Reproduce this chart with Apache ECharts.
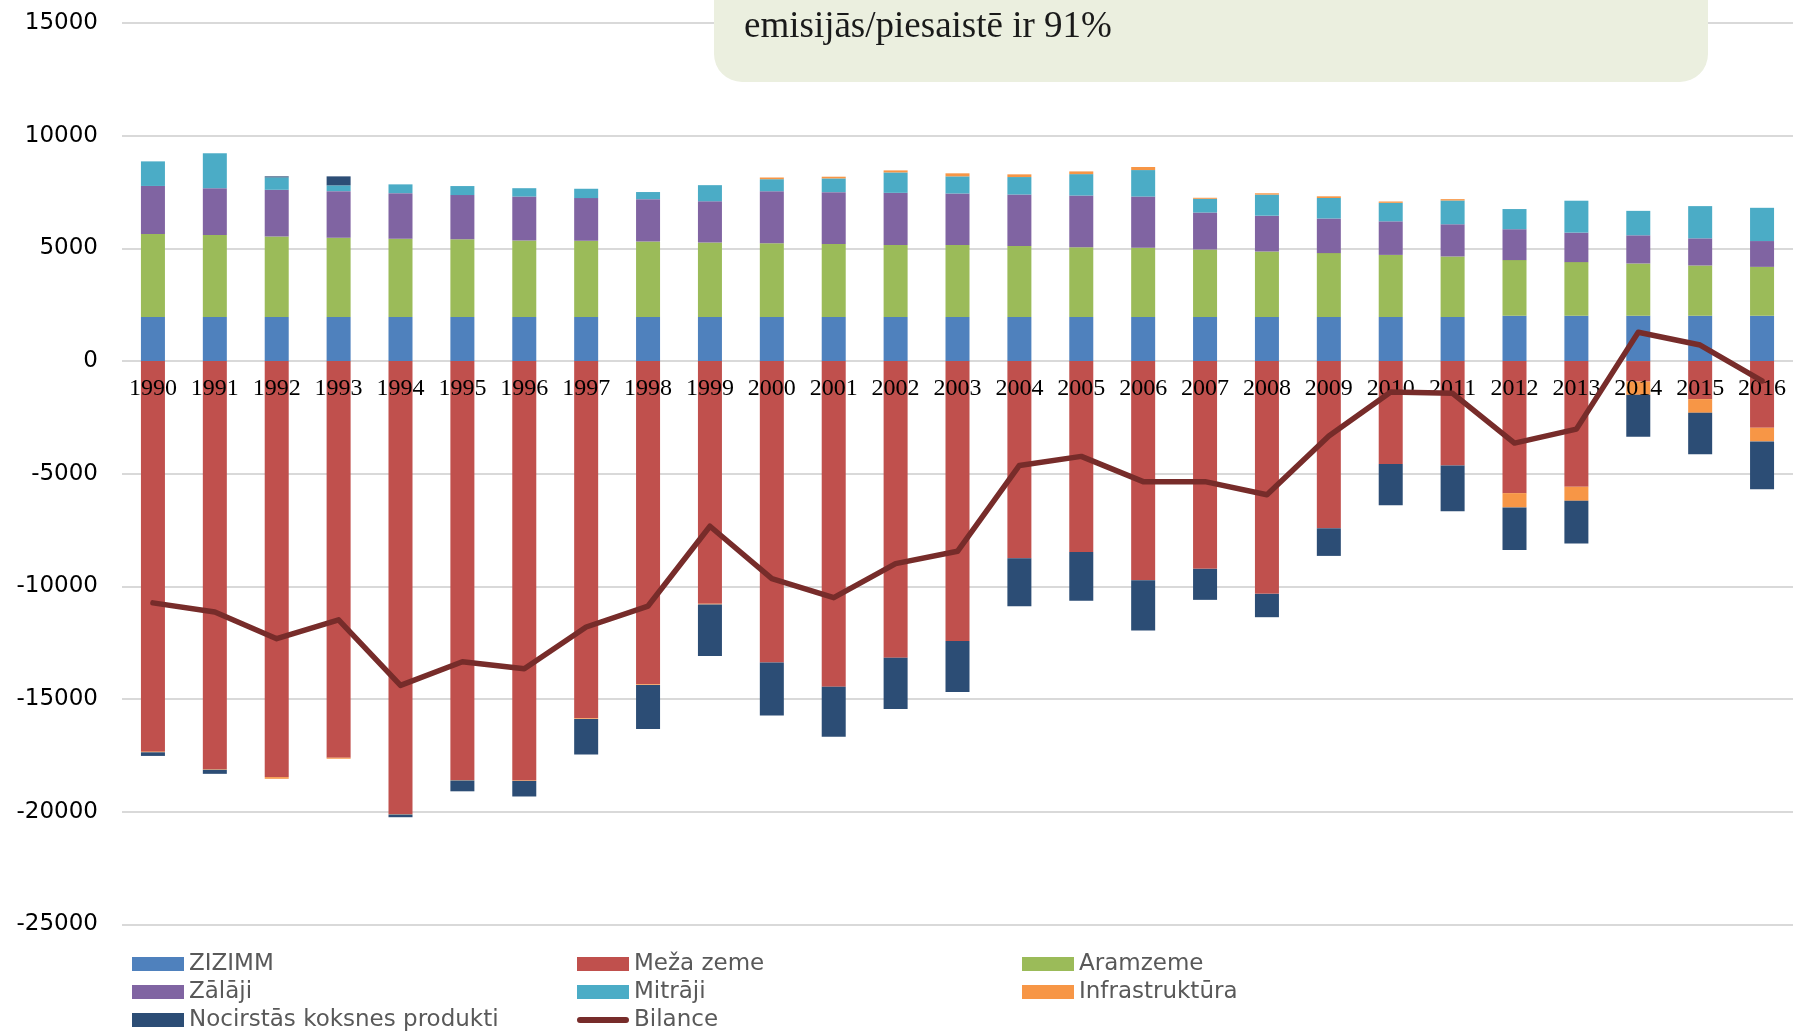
<!DOCTYPE html>
<html>
	<head>
		<meta charset="UTF-8">
		<title>ZIZIMM</title>
		<script type="text/javascript" src="https://cdn.jsdelivr.net/npm/echarts@6/dist/echarts.min.js"></script>
		<style>
			body{margin:0;background:#fff;}
		</style>
	</head>
	<body>
		<div id="main" style="width: 1793px;height: 1032px;"></div>
		<script type="text/javascript">
			var years=['1990','1991','1992','1993','1994','1995','1996','1997','1998','1999','2000','2001','2002','2003',
				'2004','2005','2006','2007','2008','2009','2010','2011','2012','2013','2014','2015','2016'];

			var zizimm=[1960,1960,1960,1960,1960,1960,1960,1960,1960,1960,1960,1960,1960,1960,
				1960,1960,1960,1960,1960,1960,1960,1960,2010,2010,2010,2010,2010];
			var mezaZeme=[-17330,-18110,-18460,-17600,-20100,-18590,-18610,-15850,-14340,-10770,-13380,-14450,-13160,-12420,
				-8750,-8470,-9720,-9220,-10330,-7420,-4570,-4630,-5860,-5580,-910,-1690,-2960];
			var aramzeme=[3680,3630,3570,3510,3470,3440,3390,3380,3350,3300,3270,3230,3185,3185,
				3140,3095,3065,2990,2900,2830,2750,2680,2470,2380,2320,2230,2170];
			var zalaji=[2130,2080,2070,2070,2020,1965,1950,1890,1875,1830,2305,2305,2320,2290,
				2290,2290,2275,1640,1590,1535,1490,1430,1370,1310,1250,1205,1145];
			var mitraji=[1090,1550,550,255,390,400,370,415,315,715,535,610,905,760,
				775,950,1175,610,935,910,820,1055,895,1415,1085,1430,1475];
			var infrastruktura=[-30,-25,-75,-45,-20,-20,-20,-30,-30,-30,75,75,90,135,
				120,120,135,45,60,75,60,60,-635,-620,-590,-605,-605];
			var koksnesProdukti=[-160,-180,45,400,-120,-480,-690,-1580,-1960,-2290,-2350,-2215,-2275,-2260,
				-2125,-2170,-2230,-1375,-1035,-1225,-1830,-2035,-1890,-1890,-1860,-1845,-2125];
			var bilance=[-10730,-11130,-12320,-11480,-14390,-13340,-13650,-11800,-10870,-7330,-9650,-10500,-8990,-8440,
				-4630,-4230,-5350,-5350,-5930,-3320,-1370,-1430,-3640,-3020,1280,710,-880];

			var yTicks={min:-25000,max:15000,step:5000};

			var barColors={
				'ZIZIMM':'#4F81BD',
				'Meža zeme':'#C0504D',
				'Aramzeme':'#9BBB59',
				'Zālāji':'#8064A2',
				'Mitrāji':'#4BACC6',
				'Infrastruktūra':'#F79646',
				'Nocirstās koksnes produkti':'#2C4D75'
			};

			var myChart=echarts.init(document.getElementById('main'));

			// plot area
			var gridTop=23,gridBottom=107.5,chartH=1032;
			var plotH=chartH-gridTop-gridBottom;
			// x axis sits on the zero line, so move it up from the bottom of the grid
			var zeroOffset=-plotH*(0-yTicks.min)/(yTicks.max-yTicks.min);

			function barSeries(name,data){
				return {
					name:name,
					type:'bar',
					stack:'total',
					barWidth:24,
					itemStyle:{color:barColors[name]},
					data:data
				};
			}

			var legendText={fontFamily:'DejaVu Sans',fontSize:23,color:'#595959',lineHeight:28};
			function legendCol(left,names){
				return {
					orient:'vertical',
					left:left,
					top:950,
					height:120,
					padding:0,
					itemGap:0,
					itemWidth:52,
					itemHeight:14,
					icon:'rect',
					selectedMode:false,
					textStyle:legendText,
					data:names
				};
			}

			var option={
				animation:false,
				grid:{left:122,right:0,top:gridTop,bottom:gridBottom},
				legend:[
					legendCol(132,['ZIZIMM','Zālāji','Nocirstās koksnes produkti']),
					legendCol(577,['Meža zeme','Mitrāji',{
						name:'Bilance',
						icon:'path://M0,0 L0.01,0 M3,4 L49,4 A3,3 0 0 1 49,10 L3,10 A3,3 0 0 1 3,4 Z M0,14 L0.01,14'
					}]),
					legendCol(1022,['Aramzeme','Infrastruktūra'])
				],
				xAxis:{
					type:'category',
					data:years,
					z:10,
					offset:zeroOffset,
					axisLine:{show:false,onZero:false},
					axisTick:{show:false},
					axisLabel:{interval:0,margin:16,fontFamily:'Liberation Serif',fontSize:24,color:'#000'}
				},
				yAxis:{
					type:'value',
					min:yTicks.min,
					max:yTicks.max,
					interval:yTicks.step,
					axisLine:{show:false},
					axisTick:{show:false},
					axisLabel:{
						margin:24,fontFamily:'DejaVu Sans',fontSize:23,color:'#000',
						formatter:function(v){return String(v);}
					},
					splitLine:{lineStyle:{color:'#D9D9D9',width:2}}
				},
				graphic:[
					{
						type:'rect',
						z:100,
						shape:{x:714,y:-60,width:994,height:142,r:28},
						style:{fill:'#EBEFDF'}
					},
					{
						type:'text',
						z:101,
						x:744,
						y:27,
						style:{
							text:'emisijās/piesaistē ir 91%',
							font:'37px "Liberation Serif"',
							fill:'#1a1a1a',
							verticalAlign:'middle'
						}
					}
				],
				series:[
					barSeries('ZIZIMM',zizimm),
					barSeries('Meža zeme',mezaZeme),
					barSeries('Aramzeme',aramzeme),
					barSeries('Zālāji',zalaji),
					barSeries('Mitrāji',mitraji),
					barSeries('Infrastruktūra',infrastruktura),
					barSeries('Nocirstās koksnes produkti',koksnesProdukti),
					{
						name:'Bilance',
						type:'line',
						z:12,
						symbol:'none',
						itemStyle:{color:'#772C2A'},
						lineStyle:{color:'#772C2A',width:5.5,cap:'round',join:'round'},
						data:bilance
					}
				]
			};

			myChart.setOption(option);
		</script>
	</body>
</html>
